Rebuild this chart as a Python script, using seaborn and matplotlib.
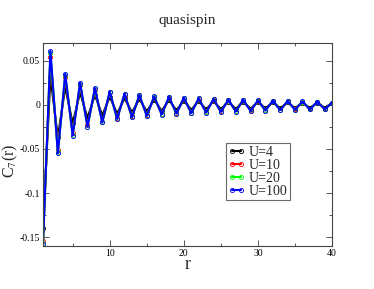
import matplotlib
matplotlib.use("Agg")
import matplotlib.pyplot as plt
import seaborn as sns
import pandas as pd
from matplotlib.ticker import FixedLocator, MultipleLocator, FuncFormatter

r = list(range(1, 41))
u4 = [-0.140, 0.032, -0.037, 0.020, -0.021, 0.014, -0.015, 0.011, -0.012, 0.009,
      -0.0100, 0.0075, -0.0085, 0.0065, -0.0075, 0.0058, -0.0068, 0.0052, -0.0062, 0.0048,
      -0.0057, 0.0044, -0.0053, 0.0040, -0.0049, 0.0037, -0.0046, 0.0034, -0.0043, 0.0032,
      -0.0041, 0.0030, -0.0039, 0.0028, -0.0037, 0.0026, -0.0035, 0.0024, -0.0033, 0.0020]
u10 = [-0.154, 0.054, -0.051, 0.031, -0.032, 0.022, -0.023, 0.017, -0.019, 0.014,
       -0.015, 0.0115, -0.013, 0.010, -0.0118, 0.0088, -0.0102, 0.008, -0.0094, 0.0073,
       -0.0088, 0.0067, -0.0082, 0.006, -0.0075, 0.0053, -0.007, 0.0051, -0.0064, 0.0046,
       -0.006, 0.0042, -0.0056, 0.0038, -0.0053, 0.0034, -0.0049, 0.0031, -0.0046, 0.002]
u20 = [-0.157, 0.059, -0.054, 0.034, -0.034, 0.024, -0.025, 0.018, -0.020, 0.015,
       -0.016, 0.0124, -0.0138, 0.0108, -0.0124, 0.0094, -0.0108, 0.0086, -0.0099, 0.0079,
       -0.0093, 0.0072, -0.0087, 0.0064, -0.0079, 0.0057, -0.0075, 0.0055, -0.0068, 0.0049,
       -0.0064, 0.0045, -0.0059, 0.0041, -0.0056, 0.0037, -0.0052, 0.0033, -0.0049, 0.0022]
u100 = [-0.158, 0.061, -0.055, 0.035, -0.035, 0.025, -0.025, 0.019, -0.020, 0.015,
        -0.016, 0.0126, -0.014, 0.011, -0.0126, 0.0095, -0.011, 0.0088, -0.010, 0.008,
        -0.0095, 0.0073, -0.0088, 0.0065, -0.008, 0.0058, -0.0076, 0.0056, -0.0069, 0.005,
        -0.0065, 0.0046, -0.006, 0.0042, -0.0057, 0.0038, -0.0053, 0.0034, -0.005, 0.0023]

labels = ["U=4", "U=10", "U=20", "U=100"]
series = [u4, u10, u20, u100]
colors = ["black", "red", "#00ff00", "blue"]

xticks = [10, 20, 30, 40]
yticks = [-0.15, -0.1, -0.05, 0, 0.05]

sns.set_style("ticks")
plt.rcParams['font.family'] = ['Liberation Serif', 'DejaVu Serif']
plt.rcParams['mathtext.fontset'] = 'stix'

fig = plt.figure(figsize=(3.74, 2.89), dpi=100)
ax = fig.add_axes([0.115, 0.149, 0.773, 0.702])

for lab, vals, col in zip(labels, series, colors):
    df = pd.DataFrame({"r": r, "C": vals})
    sns.lineplot(data=df, x="r", y="C", ax=ax, color=col, linewidth=1.5,
                 marker="o", markersize=3, markerfacecolor="none",
                 markeredgecolor=col, markeredgewidth=0.6, label=lab)

ax.set_xlim(1, 40)
ax.set_ylim(-0.16, 0.07)
ax.xaxis.set_major_locator(FixedLocator(xticks))
ax.xaxis.set_minor_locator(MultipleLocator(5))
ax.yaxis.set_major_locator(FixedLocator(yticks))
ax.yaxis.set_minor_locator(MultipleLocator(0.025))
ax.yaxis.set_major_formatter(FuncFormatter(lambda v, p: "%g" % v))
ax.tick_params(which="both", direction="in", top=True, right=True, labelsize=7,
               colors="#555555", labelcolor="black", pad=2)
ax.tick_params(which="major", length=4, width=0.7)
ax.tick_params(which="minor", length=2, width=0.7)
for s in ax.spines.values():
    s.set_linewidth(0.8)
    s.set_color("#444444")

ax.set_title("quasispin", fontsize=11, pad=14)
ax.set_xlabel("r", fontsize=13, labelpad=-1)
ax.set_ylabel(r"C$_7$(r)", fontsize=11.5)
ax.yaxis.set_label_coords(-0.078, 0.42)

leg = ax.legend(loc="upper left", bbox_to_anchor=(0.633, 0.505), fontsize=10,
                numpoints=2, handlelength=1.2, handletextpad=0.3, borderpad=0.15,
                labelspacing=0.0, borderaxespad=0, frameon=True, fancybox=False)
leg.get_frame().set_edgecolor("#444444")
leg.get_frame().set_linewidth(0.8)

fig.savefig("out.png", dpi=100)
